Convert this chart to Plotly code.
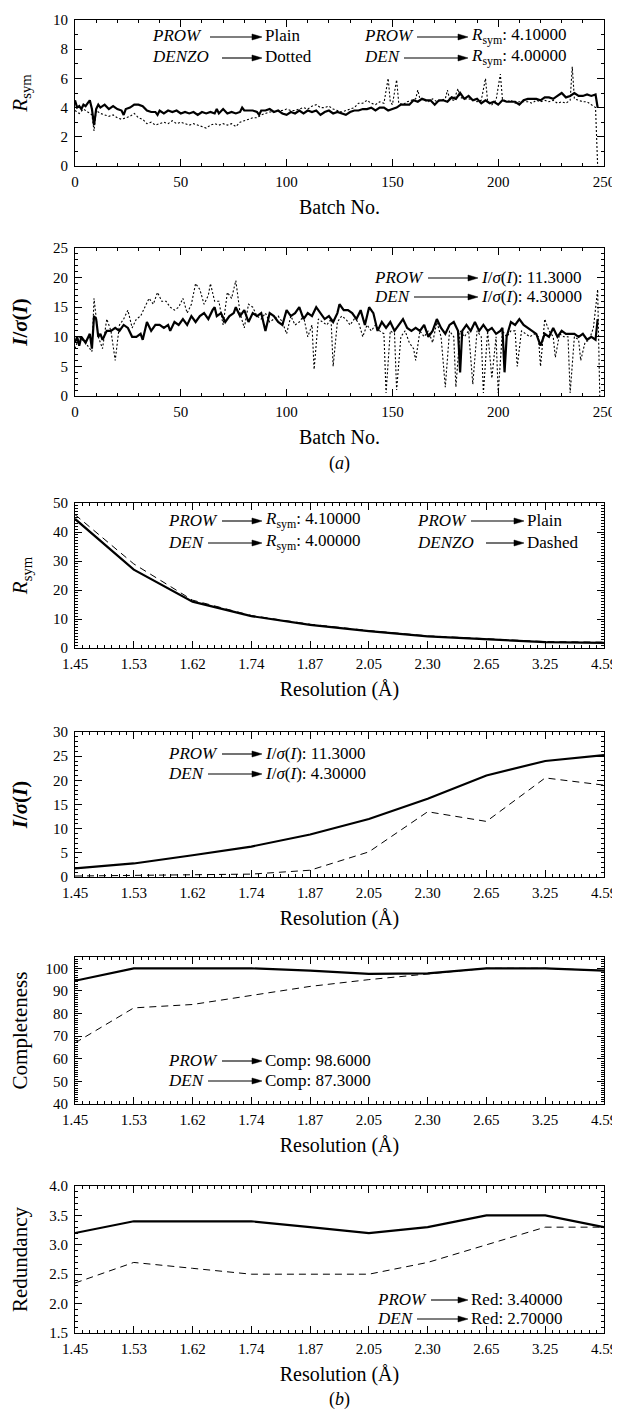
import plotly.graph_objects as go

# ---------------- DATA ----------------
# Panel (a) top: R_sym vs batch
rsym_prow_batch = [0,1,2,3,4,5,6,7,8,9,10,11,12,14,16,18,20,22,23,24,26,28,30,32,34,36,38,39,40,42,44,46,48,50,52,54,56,58,60,62,64,66,67,68,70,72,74,76,78,79,80,82,84,86,87,88,90,92,94,96,98,100,102,104,106,108,110,112,114,116,118,120,122,124,126,128,130,132,134,136,138,140,142,144,146,148,150,152,154,156,158,160,162,164,166,168,170,172,174,176,178,180,182,184,186,188,190,192,194,196,198,200,202,204,206,208,210,212,214,216,218,220,222,224,226,228,230,232,234,236,238,240,242,244,246,247]
rsym_prow = [4.5,4.0,4.1,3.9,4.2,4.1,4.3,4.5,3.9,2.8,3.9,4.2,4.0,4.2,3.9,4.1,3.9,3.8,3.5,3.9,4.0,4.2,4.2,4.1,3.8,3.7,3.7,3.5,3.8,3.6,3.8,3.7,3.8,3.6,3.7,3.6,3.7,3.5,3.7,3.6,3.7,3.6,3.9,3.6,3.9,3.6,3.7,3.6,3.7,4.0,3.8,3.8,3.8,3.7,3.5,3.8,3.8,3.9,3.7,3.8,3.6,3.5,3.7,3.6,3.8,3.6,3.8,3.7,3.8,3.5,3.7,3.8,3.6,3.7,3.6,3.5,3.7,3.8,3.8,3.9,3.9,4.0,3.8,4.0,4.0,3.8,3.9,4.0,4.2,4.2,4.2,4.5,4.4,4.6,4.5,4.5,4.2,4.5,4.5,4.4,4.7,4.6,5.0,4.6,4.8,4.5,4.6,4.3,4.5,4.3,4.4,4.2,4.5,4.4,4.4,4.4,4.2,4.5,4.6,4.6,4.6,4.5,4.7,4.7,4.6,4.8,5.0,4.7,4.8,5.0,4.8,4.8,4.9,4.8,4.9,4.0]

rsym_den_batch = [0,2,4,6,8,9,10,12,14,16,18,20,22,24,26,28,30,32,34,36,38,40,42,44,46,48,50,52,54,56,58,60,62,64,66,68,70,72,74,76,78,80,82,84,86,88,90,92,94,96,98,100,102,104,106,108,110,112,114,116,118,120,122,124,126,128,130,132,134,136,138,140,142,144,146,148,149,150,152,153,155,157,159,161,162,163,165,167,169,171,173,175,176,177,179,181,182,184,186,188,190,192,194,195,197,199,201,202,204,206,208,210,212,214,216,218,220,222,224,226,228,230,232,234,235,236,238,240,242,244,246,247]
rsym_den = [3.8,3.6,3.9,3.7,3.5,2.4,3.8,3.6,3.5,3.4,3.5,3.3,3.2,3.3,3.4,3.6,3.3,3.2,2.9,3.0,2.8,2.9,3.0,2.9,3.1,2.9,3.0,2.9,2.8,2.9,2.8,2.7,2.6,2.8,2.9,2.8,2.9,2.8,2.9,2.7,3.0,3.1,3.2,3.3,3.3,3.5,3.6,3.7,3.7,3.8,3.8,3.9,3.8,3.8,3.9,4.0,3.9,4.1,4.2,4.0,4.0,4.1,3.9,3.8,3.7,3.8,3.9,4.0,4.3,4.3,4.5,4.3,4.2,4.4,4.3,6.0,4.4,4.2,5.9,4.3,4.2,4.4,4.5,4.6,5.2,4.6,4.5,4.4,4.6,4.4,4.5,4.6,5.2,4.6,4.5,5.3,4.7,4.6,4.6,4.5,4.4,4.5,6.0,4.4,4.2,4.5,6.3,4.6,4.4,4.5,4.3,4.4,4.4,4.4,4.3,4.5,4.4,4.5,4.4,4.5,4.3,4.4,4.3,4.5,6.8,4.6,4.5,4.4,4.4,4.2,4.0,0.0]

# Panel (a) bottom: I/sigma(I) vs batch
isig_prow_batch = [0,1,2,3,5,7,8,9,10,11,12,13,15,17,19,21,23,25,27,29,31,32,34,36,38,40,42,44,45,47,49,51,53,55,57,59,61,63,65,66,67,69,71,73,75,76,78,80,82,84,86,88,90,92,94,96,98,100,102,104,106,108,110,112,114,116,118,120,122,124,125,127,129,131,133,135,137,139,141,143,145,147,149,151,153,155,157,159,161,163,165,167,169,171,173,175,177,179,181,182,183,185,187,189,191,193,195,197,199,201,202,203,204,206,208,210,212,214,216,218,220,222,224,226,228,230,232,234,236,238,240,242,244,246,247]
isig_prow = [9,10,8.5,10,9,10.5,8,13.5,13,10,10.5,9.5,11,11,11.5,11,12,11.5,10,10,10.5,9.5,12.5,11,12,12,11.5,12,11,12.5,12,13,12,13.5,12.5,13.5,14,13,14.5,15,13.5,14,12.5,13.5,14,15,13.5,14.5,12.5,14,13.5,14,11,14,13.5,12.5,12,14.5,13.5,14,15,13,14,13.5,15,14,13,13.5,12.5,14,15.5,14.5,14.5,14,13,14.5,12,15,14,11,12.5,11.5,12.5,11,12,13,11.5,11,11.5,11,12,10,11,13,11.5,10.5,12,12.5,11,4,11,12,11,12.5,11,12,11,11.5,10.5,11,11.5,4,10,12.5,12,13,12,11.5,11,10.5,8.5,10.5,10,11.5,10,11,10.5,10.5,10.5,10,10.5,9.5,10,9.5,13]

isig_den_batch = [0,2,5,8,9,11,13,15,17,19,21,23,25,27,29,31,33,35,37,39,41,43,45,47,49,51,53,55,57,59,61,63,64,66,68,70,72,74,76,78,80,82,84,86,88,90,92,94,96,98,100,102,104,106,108,110,112,113,115,117,119,121,122,124,126,128,130,132,134,136,138,140,142,144,146,147,149,151,152,154,156,158,160,161,163,165,167,169,171,173,175,177,179,180,182,184,186,188,190,192,193,195,197,199,200,202,204,206,208,209,211,213,215,217,219,220,222,224,226,227,229,231,233,234,236,238,239,241,243,245,247,248]
isig_den = [8,10,9,7.5,16.5,10,8,13,11,6,12,13,14.5,11.5,13,13.5,15,16.5,15.5,17.5,16,16,15,14.5,15,16.5,14,15.5,19,18,15.5,17,19,16,16,12,17.5,16.5,19.5,14,11.5,15.5,15,13.5,13,14,12.5,13,13.5,12.5,10.5,13.5,12,12.5,13.5,10,12,4.5,13,12.5,12,13,5,12.5,13.5,13,12,13,12.5,10,12,11,12,11,10.5,0.5,11,10.5,1,10,11,9,8,6,11,10,11,9,12.5,10,1.5,11,10,1.5,11,10,11,2,11,10,0.5,11,3,10,0.5,11,10,11,11,5,11,10.5,10,10.5,10,5,13,11,10,6.5,10.5,10,10,0.5,10,9.5,6,9,9.5,11.5,18,0]

# Panel (b): statistics vs resolution shell
res_labels = ["1.45","1.53","1.62","1.74","1.87","2.05","2.30","2.65","3.25","4.59"]
res_rsym_prow = [44.5,27,16,11,8,5.8,4,3,2,1.8]
res_rsym_den  = [46,29,16.5,11.2,8.2,6,4.2,3.2,2.2,2.0]
res_isig_prow = [1.8,2.8,4.5,6.3,8.8,12,16.2,21,24,25.2]
res_isig_den  = [0.2,0.3,0.5,0.6,1.4,5.2,13.5,11.5,20.5,19]
res_comp_prow = [94.5,100,100,100,99,97.5,97.8,100,100,99]
res_comp_den  = [67,82.5,84,88,92,95,97.5,100,100,99]
res_red_prow  = [3.2,3.4,3.4,3.4,3.3,3.2,3.3,3.5,3.5,3.3]
res_red_den   = [2.35,2.7,2.6,2.5,2.5,2.5,2.7,3.0,3.3,3.3]

xtitles = ["Batch No.", "Batch No.", "Resolution (Å)", "Resolution (Å)", "Resolution (Å)", "Resolution (Å)"]
ytitles = ["<i>R</i><sub>sym</sub>", "<b><i>I</i>/<i>σ</i>(<i>I</i>)</b>", "<i>R</i><sub>sym</sub>",
           "<b><i>I</i>/<i>σ</i>(<i>I</i>)</b>", "Completeness", "Redundancy"]

# ---------------- LAYOUT HELPERS ----------------
OFF = 8                       # page body margin of the browser
W, H = 620 - OFF, 1417 - OFF  # figure size so the page is exactly filled
FONT = "'Liberation Serif', 'Times New Roman', 'DejaVu Serif', serif"
X0, X1 = 75, 604  # frame position on the page, px

def px(x):
    return (x - OFF) / W

def py(y):
    return 1 - (y - OFF) / H

# panel frames on the page in px (top, bottom)
panels = [(20, 166), (248, 396), (503, 648), (732, 877), (957, 1104), (1186, 1333)]
ytitle_standoff = [24, 24, 19, 23, 14, 18]

fig = go.Figure()

res_idx = list(range(len(res_labels)))

SOLID = dict(color="black", width=2.2)
DOTTED = dict(color="black", width=1.1, dash="2px,2px")
DASHED = dict(color="black", width=1.0, dash="7px,5px")

series = [
    (1, rsym_prow_batch, rsym_prow, SOLID), (1, rsym_den_batch, rsym_den, DOTTED),
    (2, isig_prow_batch, isig_prow, SOLID), (2, isig_den_batch, isig_den, DOTTED),
    (3, res_idx, res_rsym_den, DASHED), (3, res_idx, res_rsym_prow, SOLID),
    (4, res_idx, res_isig_den, DASHED), (4, res_idx, res_isig_prow, SOLID),
    (5, res_idx, res_comp_den, DASHED), (5, res_idx, res_comp_prow, SOLID),
    (6, res_idx, res_red_den, DASHED), (6, res_idx, res_red_prow, SOLID),
]
for k, xs, ys, ln in series:
    sfx = "" if k == 1 else str(k)
    fig.add_trace(go.Scatter(x=xs, y=ys, mode="lines", line=ln, showlegend=False,
                             xaxis="x" + sfx, yaxis="y" + sfx, hoverinfo="skip"))

yranges = [(0, 10, 2, 1), (0, 25, 5, 1), (0, 50, 10, 1), (0, 30, 5, 1), (40, 105, 10, 1), (1.5, 4.0, 0.5, 0.1)]

TICKFONT = dict(family=FONT, size=15, color="black")
TITLEFONT = dict(family=FONT, size=20, color="black")
layout = dict(width=W, height=H, margin=dict(l=0, r=0, t=0, b=0),
              paper_bgcolor="white", plot_bgcolor="white",
              font=dict(family=FONT, color="black", size=16), showlegend=False)

for i, ((top, bot), (y0, y1, dt, mdt)) in enumerate(zip(panels, yranges)):
    k = i + 1
    sfx = "" if k == 1 else str(k)
    batch = k <= 2
    xa = dict(domain=[px(X0), px(X1)], anchor="y" + sfx, showgrid=False, zeroline=False,
              showline=True, linecolor="black", linewidth=1, mirror="ticks",
              ticks="inside", ticklen=7, tickwidth=1, tickcolor="black",
              tickfont=TICKFONT, ticklabelstandoff=2, automargin=False,
              title=dict(text=xtitles[i], font=TITLEFONT, standoff=10))
    if batch:
        xa.update(range=[0, 250], tickmode="linear", tick0=0, dtick=50,
                  minor=dict(ticks="inside", ticklen=3, dtick=10, tickcolor="black", showgrid=False))
    else:
        xa.update(range=[0, 9], tickmode="array", tickvals=res_idx, ticktext=res_labels,
                  minor=dict(ticks="inside", ticklen=3, dtick=0.125, tick0=0, tickcolor="black", showgrid=False))
    ya = dict(domain=[py(bot), py(top)], anchor="x" + sfx, range=[y0, y1], showgrid=False,
              zeroline=False, showline=True, linecolor="black", linewidth=1, mirror="ticks",
              ticks="inside", ticklen=7, tickwidth=1, tickcolor="black",
              tickmode="linear", tick0=y0, dtick=dt,
              tickformat=".1f" if k == 6 else "d",
              minor=dict(ticks="inside", ticklen=3, dtick=mdt, tickcolor="black", showgrid=False),
              tickfont=TICKFONT, ticklabelstandoff=3, automargin=False,
              title=dict(text=ytitles[i], font=dict(family=FONT, size=21, color="black"),
                         standoff=ytitle_standoff[i]))
    layout["xaxis" + sfx] = xa
    layout["yaxis" + sfx] = ya

fig.update_layout(**layout)

anns = []
shapes = []

def text(x, y, s, size=17, anchor="left"):
    anns.append(dict(x=px(x), y=py(y), xref="paper", yref="paper", text=s, showarrow=False,
                     xanchor=anchor, yanchor="middle",
                     font=dict(family=FONT, size=size, color="black")))

def arrow(x_tail, x_head, y, hl=10, hw=3):
    shapes.append(dict(type="line", xref="paper", yref="paper",
                       x0=px(x_tail), x1=px(x_head - hl + 1), y0=py(y), y1=py(y),
                       line=dict(color="black", width=1.1)))
    path = "M {} {} L {} {} L {} {} Z".format(px(x_head), py(y), px(x_head - hl), py(y - hw),
                                              px(x_head - hl), py(y + hw))
    shapes.append(dict(type="path", xref="paper", yref="paper", path=path,
                       fillcolor="black", line=dict(color="black", width=0.5)))

def row(xl, tail, head, y, left, right):
    text(xl, y, left)
    arrow(tail, head, y + 1)
    text(head + 1, y, right)

RS = "<i>R</i><sub>sym</sub>: "
IS = "<i>I</i>/<i>σ</i>(<i>I</i>): "

# panel 1
row(150, 210, 262, 36, "<i>PROW</i>", "Plain")
row(150, 222, 262, 57, "<i>DENZO</i>", "Dotted")
row(362, 417, 468, 36, "<i>PROW</i>", RS + "4.10000")
row(362, 404, 468, 57, "<i>DEN</i>", RS + "4.00000")
# panel 2
row(372, 428, 478, 277, "<i>PROW</i>", IS + "11.3000")
row(372, 414, 478, 296, "<i>DEN</i>", IS + "4.30000")
# panel 3
row(166, 222, 262, 520, "<i>PROW</i>", RS + "4.10000")
row(166, 208, 262, 542, "<i>DEN</i>", RS + "4.00000")
row(415, 471, 524, 520, "<i>PROW</i>", "Plain")
row(415, 486, 524, 542, "<i>DENZO</i>", "Dashed")
# panel 4
row(166, 222, 262, 753, "<i>PROW</i>", IS + "11.3000")
row(166, 208, 262, 773, "<i>DEN</i>", IS + "4.30000")
# panel 5
row(166, 222, 262, 1060, "<i>PROW</i>", "Comp: 98.6000")
row(166, 208, 262, 1080, "<i>DEN</i>", "Comp: 87.3000")
# panel 6
row(375, 431, 468, 1299, "<i>PROW</i>", "Red: 3.40000")
row(375, 417, 468, 1318, "<i>DEN</i>", "Red: 2.70000")

text((X0 + X1) / 2, 463, "(<i>a</i>)", size=18, anchor="center")
text((X0 + X1) / 2, 1399, "(<i>b</i>)", size=18, anchor="center")

fig.update_layout(annotations=anns, shapes=shapes)
fig.write_html("out.html")
